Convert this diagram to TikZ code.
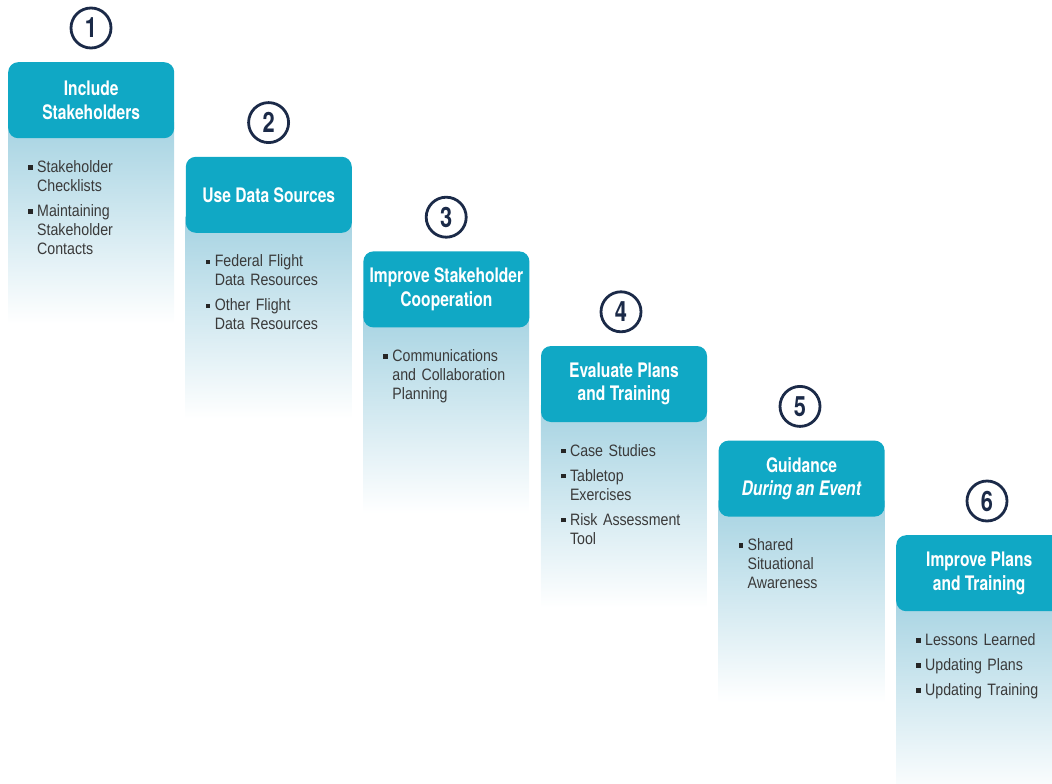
\documentclass[tikz,border=0pt]{standalone}
\usepackage{fontspec}
\setmainfont{Liberation Sans}
\newfontfamily\headfont[FakeStretch=0.78]{TeX Gyre Heros}
\newfontfamily\bodyfont[FakeStretch=0.86]{Liberation Sans}
\definecolor{headblue}{HTML}{10A8C5}
\definecolor{panelblue}{HTML}{A6D3E2}
\definecolor{navy}{HTML}{1B2A48}
\definecolor{bodygray}{HTML}{3A3A3A}
\newcommand\bit[1]{\par\noindent\hangindent=9pt\hangafter=1\makebox[9pt][l]{\raisebox{2.6pt}{\color{black!85}\rule{4.6pt}{4.6pt}}}#1\par}
\tikzset{
  headbox/.style={rounded corners=10pt, fill=headblue, text=white, align=center,
    minimum width=166pt, minimum height=76pt, inner sep=0pt, anchor=north west,
    font=\headfont\bfseries\fontsize{20}{23.5}\selectfont},
  numcirc/.style={circle, draw=navy, line width=2.8pt, minimum size=40pt, inner sep=0pt,
    text=navy, font=\headfont\bfseries\fontsize{28}{28}\selectfont},
  bodytext/.style={anchor=north west, inner sep=0pt, text width=150pt,
    text=bodygray, font=\bodyfont\fontsize{16.5}{19}\selectfont}
}
\newcommand\stepcol[6]{%
  \shade[top color=panelblue, bottom color=white] (#2,#3+60) rectangle (#2+166,#3+262);
  \node[headbox] (h#1) at (#2,#3) {#4};
  \node[numcirc] (c#1) at (#6,#3-34) {#1};
  \node[bodytext] (b#1) at (#2+20,#3+85) {\raggedright\setlength\parskip{6pt}#5};
}
\begin{document}
\begin{tikzpicture}[x=1pt,y=-1pt]
\useasboundingbox (0,0) rectangle (1052,784);
\clip (0,0) rectangle (1052,784);
\stepcol{1}{8}{62}{Include\\Stakeholders}{\bit{Stakeholder\newline Checklists}\bit{Maintaining\newline Stakeholder\newline Contacts}}{91}
\stepcol{2}{185.6}{156.6}{Use Data Sources}{\bit{Federal Flight\newline Data Resources}\bit{Other Flight\newline Data Resources}}{268.6}
\stepcol{3}{363.2}{251.2}{Improve Stakeholder\\Cooperation}{\bit{Communications\newline and Collaboration\newline Planning}}{446.2}
\stepcol{4}{540.8}{345.8}{Evaluate Plans\\and Training}{\bit{Case Studies}\bit{Tabletop\newline Exercises}\bit{Risk Assessment\newline Tool}}{621}
\stepcol{5}{718.4}{440.4}{Guidance\\\textit{During an Event}}{\bit{Shared\newline Situational\newline Awareness}}{800}
\stepcol{6}{896}{535}{Improve Plans\\and Training}{\bit{Lessons Learned}\bit{Updating Plans}\bit{Updating Training}}{987}
\end{tikzpicture}
\end{document}
